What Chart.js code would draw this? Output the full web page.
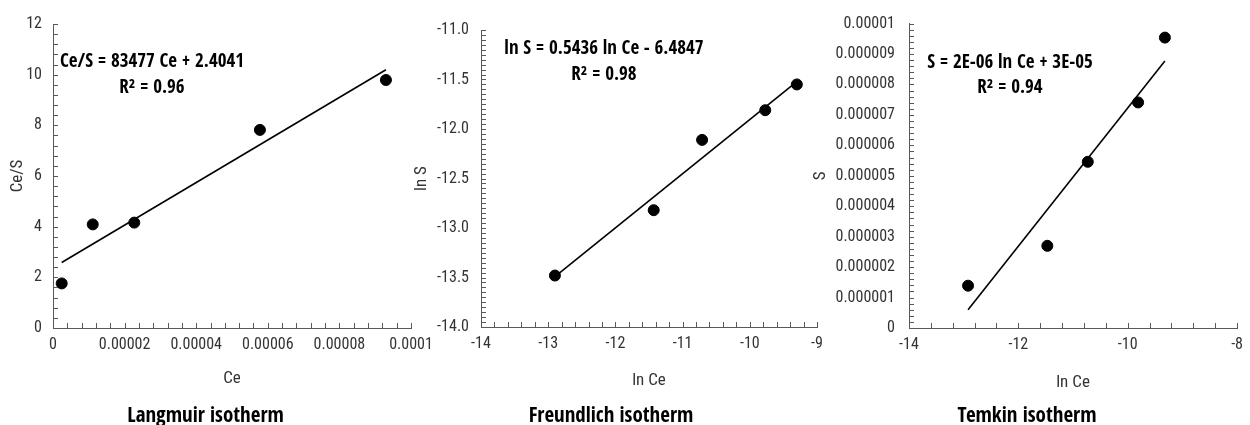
<!doctype html>
<html lang="en">
<head>
  <meta charset="utf-8">
  <title>Isotherms</title>
  <style>
    * { margin: 0; padding: 0; }
    body { width: 1250px; height: 425px; background: #fff; position: relative; overflow: hidden; }
    canvas { position: absolute; top: 0; }
    #langmuir { left: 0; }
    #freundlich { left: 405px; }
    #temkin { left: 811px; }
  </style>
</head>
<body>
  <canvas id="langmuir" width="440" height="425"></canvas>
  <canvas id="freundlich" width="430" height="425"></canvas>
  <canvas id="temkin" width="439" height="425"></canvas>
  <script src="https://cdn.jsdelivr.net/npm/chart.js/dist/chart.umd.min.js"></script>
  <script>
    // data
    const langCe = [2.43e-6, 1.11e-5, 2.27e-5, 5.78e-5, 9.30e-5];
    const langCeS = [1.76, 4.09, 4.16, 7.82, 9.79];
    const freLnCe = [-12.90, -11.43, -10.71, -9.77, -9.30];
    const freLnS = [-13.48, -12.82, -12.11, -11.81, -11.55];
    const temLnCe = [-12.92, -11.47, -10.73, -9.81, -9.32];
    const temS = [1.39e-6, 2.70e-6, 5.46e-6, 7.41e-6, 9.54e-6];

    const titles = ['Langmuir isotherm', 'Freundlich isotherm', 'Temkin isotherm'];
    const equations = [
      ['Ce/S = 83477 Ce + 2.4041', 'R² = 0.96'],
      ['ln S = 0.5436 ln Ce - 6.4847', 'R² = 0.98'],
      ['S = 2E-06 ln Ce + 3E-05', 'R² = 0.94']
    ];

    const BOLD = '"Open Sans Condensed", "Roboto Condensed", sans-serif';
    const FONT = '"Roboto Condensed", sans-serif';
    const AXIS = '#595959';
    const TEXT = '#333';
    const TITLE_H = 21 * 0.8; // title box height at the bottom

    // least squares line over the data range
    function trend(xs, ys) {
      const n = xs.length;
      const mx = xs.reduce((a, b) => a + b, 0) / n;
      const my = ys.reduce((a, b) => a + b, 0) / n;
      let sxy = 0, sxx = 0;
      for (let i = 0; i < n; i++) {
        sxy += (xs[i] - mx) * (ys[i] - my);
        sxx += (xs[i] - mx) * (xs[i] - mx);
      }
      const m = sxy / sxx, b = my - m * mx;
      const x0 = Math.min(...xs), x1 = Math.max(...xs);
      return [{ x: x0, y: m * x0 + b }, { x: x1, y: m * x1 + b }];
    }

    // little inside tick marks, excel style
    const tickMarks = {
      id: 'tickMarks',
      afterDatasetsDraw(chart, args, opts) {
        const { ctx, chartArea: a, scales: { x, y } } = chart;
        ctx.save();
        ctx.strokeStyle = AXIS;
        ctx.lineWidth = 1;
        ctx.beginPath();
        let n = Math.round((x.max - x.min) / opts.xMinor);
        for (let i = 0; i <= n; i++) {
          const px = Math.round(x.getPixelForValue(x.min + i * opts.xMinor)) + 0.5;
          ctx.moveTo(px, a.bottom);
          ctx.lineTo(px, a.bottom - 5);
        }
        n = Math.round((y.max - y.min) / opts.yMinor);
        for (let i = 0; i <= n; i++) {
          const py = Math.round(y.getPixelForValue(y.min + i * opts.yMinor)) + 0.5;
          ctx.moveTo(a.left, py);
          ctx.lineTo(a.left + 5, py);
        }
        ctx.stroke();
        ctx.restore();
      }
    };

    const eqLabel = {
      id: 'eqLabel',
      afterDraw(chart, args, opts) {
        const { ctx, chartArea: a } = chart;
        ctx.save();
        ctx.fillStyle = '#000';
        ctx.font = 'bold 19px ' + BOLD;
        ctx.textAlign = 'center';
        ctx.textBaseline = 'middle';
        ctx.fillText(opts.lines[0], a.left + opts.dx, a.top + opts.dy[0]);
        ctx.fillText(opts.lines[1], a.left + opts.dx, a.top + opts.dy[1]);
        ctx.restore();
      }
    };

    function makeChart(id, k, xs, ys, s) {
      return new Chart(document.getElementById(id), {
        type: 'scatter',
        data: {
          datasets: [
            {
              data: xs.map((v, i) => ({ x: v, y: ys[i] })),
              backgroundColor: '#000',
              borderColor: '#000',
              pointRadius: 5.5,
              pointHoverRadius: 5.5
            },
            {
              type: 'line',
              data: trend(xs, ys),
              borderColor: '#000',
              borderWidth: 1.6,
              pointRadius: 0,
              fill: false
            }
          ]
        },
        options: {
          responsive: false,
          animation: false,
          layout: { padding: { top: s.top, right: s.right, left: 0, bottom: 0 } },
          plugins: {
            legend: { display: false },
            tooltip: { enabled: false },
            title: {
              display: true,
              position: 'bottom',
              text: titles[k],
              color: '#000',
              font: { family: BOLD, size: 21, weight: 'bold', lineHeight: 0.8 },
              padding: 0
            },
            tickMarks: { xMinor: s.xMinor, yMinor: s.yMinor },
            eqLabel: { lines: equations[k], dx: s.eqX, dy: s.eqY }
          },
          scales: {
            x: {
              type: 'linear',
              min: s.xMin, max: s.xMax,
              grid: { display: false, drawTicks: false },
              border: { display: true, color: AXIS, width: 1 },
              ticks: {
                stepSize: s.xStep,
                padding: 7,
                maxRotation: 0,
                autoSkip: false,
                color: TEXT,
                font: { family: FONT, size: 16 },
                callback: s.xFmt
              },
              title: {
                display: true,
                text: s.xTitle,
                color: TEXT,
                font: { family: FONT, size: 17 },
                padding: { top: 0, bottom: s.xTitlePad }
              },
              afterFit: sc => { sc.height = 425 - TITLE_H - s.bottom; }
            },
            y: {
              type: 'linear',
              min: s.yMin, max: s.yMax,
              grid: { display: false, drawTicks: false },
              border: { display: true, color: AXIS, width: 1 },
              ticks: {
                stepSize: s.yStep,
                padding: s.yPad,
                autoSkip: false,
                color: TEXT,
                font: { family: FONT, size: 16 },
                callback: s.yFmt
              },
              title: {
                display: true,
                text: s.yTitle,
                color: TEXT,
                font: { family: FONT, size: 17 },
                padding: { top: s.yTitlePad, bottom: 0 }
              },
              afterFit: sc => { sc.width = s.yWidth; }
            }
          }
        },
        plugins: [tickMarks, eqLabel]
      });
    }

    const plain = v => String(parseFloat(v.toFixed(8)));

    makeChart('langmuir', 0, langCe, langCeS, {
      xMin: 0, xMax: 0.0001, xStep: 0.00002, xMinor: 0.000004, xFmt: plain,
      yMin: 0, yMax: 12, yStep: 2, yMinor: 0.4, yFmt: plain,
      xTitle: 'Ce', yTitle: 'Ce/S',
      top: 24, bottom: 328, right: 29, yWidth: 53, yPad: 11,
      xTitlePad: 19, yTitlePad: 8,
      eqX: 99, eqY: [38, 64]
    });

    makeChart('freundlich', 1, freLnCe, freLnS, {
      xMin: -14, xMax: -9, xStep: 1, xMinor: 0.2, xFmt: plain,
      yMin: -14, yMax: -11, yStep: 0.5, yMinor: 0.05, yFmt: v => v.toFixed(1),
      xTitle: 'ln Ce', yTitle: 'ln S',
      top: 30, bottom: 327, right: 18, yWidth: 76, yPad: 12,
      xTitlePad: 17, yTitlePad: 7,
      eqX: 123, eqY: [19, 45]
    });

    makeChart('temkin', 2, temLnCe, temS, {
      xMin: -14, xMax: -8, xStep: 2, xMinor: 0.4, xFmt: plain,
      yMin: 0, yMax: 0.00001, yStep: 0.000001, yMinor: 0.0000002, yFmt: plain,
      xTitle: 'ln Ce', yTitle: 'S',
      top: 20, bottom: 328, right: 7, yWidth: 98, yPad: 14,
      xTitlePad: 15, yTitlePad: 0,
      eqX: 101, eqY: [39, 64]
    });
  </script>
</body>
</html>
